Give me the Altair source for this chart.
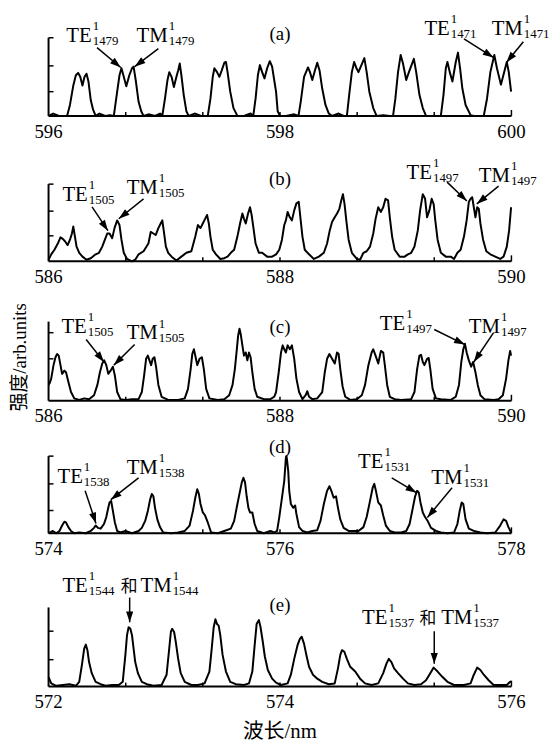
import math
import altair as alt
import pandas as pd

# ---------------- spectra: (offset from first tick label in nm, intensity in arb. units, axis top = 100)
a_start = 596
a_pts = [(0.000,0),(0.040,3),(0.090,0),(0.160,0),(0.185,14),(0.214,39),(0.236,52),(0.256,55),(0.274,50),(0.293,39),(0.311,50),(0.328,54),(0.345,44),(0.365,20),(0.385,8),(0.407,0),(0.440,3),(0.490,0),(0.530,1),
 (0.564,0),(0.593,31),(0.613,52),(0.630,61),(0.650,50),(0.672,38),(0.698,52),(0.721,61),(0.735,63),(0.755,44),(0.778,18),(0.801,6),(0.821,0),(0.863,2),(0.920,0),(0.963,3),
 (0.983,0),(1.006,22),(1.028,46),(1.043,56),(1.063,50),(1.083,37),(1.105,50),(1.120,58),(1.134,67),(1.148,52),(1.168,27),(1.191,6),(1.211,0),(1.262,3),(1.319,0),
 (1.376,0),(1.399,22),(1.419,50),(1.433,61),(1.456,56),(1.476,50),(1.496,58),(1.519,68),(1.533,69),(1.547,56),(1.570,31),(1.598,10),(1.632,0),(1.689,0),(1.746,3),
 (1.769,0),(1.789,22),(1.809,52),(1.826,65),(1.846,56),(1.866,48),(1.889,61),(1.912,70),(1.932,63),(1.952,44),(1.966,31),(1.980,6),(2.000,0),(2.051,0),(2.123,2),
 (2.160,0),(2.179,18),(2.208,50),(2.242,62),(2.259,56),(2.279,46),(2.302,58),(2.322,68),(2.342,58),(2.365,35),(2.393,14),(2.422,3),(2.450,0),(2.507,3),(2.550,0),
 (2.578,0),(2.598,27),(2.621,56),(2.641,69),(2.658,62),(2.678,56),(2.701,64),(2.729,74),(2.749,56),(2.772,31),(2.806,10),(2.835,0),(2.892,1),(2.949,0),
 (2.977,0),(2.997,22),(3.020,56),(3.043,78),(3.063,67),(3.091,46),(3.114,56),(3.157,73),(3.177,56),(3.205,27),(3.234,10),(3.262,0),(3.319,0),
 (3.390,0),(3.413,27),(3.433,61),(3.447,69),(3.467,56),(3.490,44),(3.519,69),(3.538,81),(3.556,61),(3.576,35),(3.604,14),(3.647,1),(3.675,0),(3.732,0),
 (3.761,0),(3.789,22),(3.818,56),(3.852,78),(3.875,61),(3.909,40),(3.937,56),(3.960,69),(3.977,56),(3.997,31)]

b_start = 586
b_pts = [(0.000,2),(0.023,9),(0.051,15),(0.080,23),(0.103,31),(0.123,29),(0.142,26),(0.165,21),(0.185,28),(0.202,36),(0.214,45),(0.228,32),(0.242,19),(0.265,11),(0.293,6),(0.328,2),(0.365,4),(0.407,9),(0.436,11),(0.464,19),(0.487,28),(0.507,36),(0.527,36),(0.550,30),(0.570,43),(0.593,53),(0.613,47),(0.630,28),(0.650,11),(0.678,3),(0.721,0),(0.749,2),(0.778,9),(0.821,13),(0.863,23),(0.883,38),(0.906,36),(0.926,34),(0.949,43),(0.969,49),(0.983,53),(0.997,38),(1.014,19),(1.034,11),(1.063,6),(1.105,1),(1.148,6),(1.191,11),(1.234,13),(1.268,32),(1.291,47),(1.313,43),(1.333,49),(1.353,55),(1.370,60),(1.385,49),(1.399,32),(1.419,15),(1.447,9),(1.484,3),(1.519,4),(1.547,6),(1.575,11),(1.604,15),(1.632,32),(1.655,49),(1.675,62),(1.689,55),(1.704,49),(1.724,62),(1.741,70),(1.755,60),(1.769,45),(1.789,23),(1.818,11),(1.846,11),(1.889,6),(1.932,6),
 (1.966,9),(1.994,15),(2.017,28),(2.037,47),(2.051,53),(2.066,64),(2.085,57),(2.103,53),(2.123,66),(2.142,75),(2.162,77),(2.179,53),(2.194,32),(2.214,15),(2.251,9),(2.293,3),(2.336,6),(2.379,11),(2.407,23),(2.430,40),(2.450,51),(2.473,57),(2.493,62),(2.513,68),(2.530,79),(2.544,87),(2.558,74),(2.573,53),(2.593,28),(2.621,11),(2.664,3),(2.692,2),(2.721,11),(2.749,13),(2.778,19),(2.806,36),(2.826,55),(2.849,70),(2.872,64),(2.892,70),(2.912,81),(2.934,79),(2.949,57),(2.969,32),(2.991,15),(3.034,6),(3.077,6),(3.105,9),(3.134,11),(3.162,19),(3.191,40),(3.211,66),(3.234,87),(3.254,81),(3.271,57),(3.291,66),(3.311,81),(3.328,74),(3.342,53),(3.362,28),(3.390,11),(3.433,6),(3.476,6),(3.504,3),(3.533,11),(3.561,15),(3.590,32),(3.613,53),(3.632,77),(3.647,81),(3.661,83),(3.675,70),(3.689,57),(3.704,70),(3.718,68),(3.732,49),(3.755,28),(3.783,13),(3.818,9),(3.860,6),(3.903,3),(3.932,6),(3.960,19),(3.980,40),(3.997,70)]

c_start = 586
c_pts = [(0.000,20),(0.009,22),(0.023,28),(0.043,45),(0.060,55),(0.074,59),(0.088,57),(0.103,45),(0.117,34),(0.137,38),(0.151,36),(0.171,24),(0.194,11),(0.222,3),(0.265,1),(0.308,3),(0.350,2),(0.393,7),(0.422,20),(0.444,36),(0.464,47),(0.481,51),(0.499,45),(0.516,34),(0.536,38),(0.556,43),(0.573,32),(0.593,11),(0.621,2),(0.664,1),(0.721,2),(0.778,2),(0.806,11),(0.826,32),(0.843,53),(0.858,57),(0.872,51),(0.886,45),(0.900,53),(0.915,55),(0.929,43),(0.949,20),(0.977,5),(1.034,1),(1.120,1),(1.177,3),(1.205,15),(1.228,40),(1.242,59),(1.256,65),(1.271,55),(1.285,45),(1.305,53),(1.325,55),(1.342,40),(1.362,15),(1.390,3),(1.462,1),(1.519,2),(1.561,7),(1.590,20),(1.610,40),(1.627,65),(1.638,82),(1.650,91),(1.661,84),(1.675,70),(1.689,57),(1.704,61),(1.718,51),(1.732,61),(1.746,55),(1.761,36),(1.781,15),(1.803,5),(1.860,2),(1.917,2),(1.950,5),
 (1.966,11),(1.989,36),(2.009,61),(2.023,70),(2.037,65),(2.051,61),(2.066,70),(2.085,65),(2.103,70),(2.123,53),(2.142,28),(2.165,11),(2.194,2),(2.222,7),(2.236,12),(2.251,5),(2.279,2),(2.322,3),(2.365,11),(2.387,36),(2.407,53),(2.427,59),(2.450,53),(2.473,47),(2.493,61),(2.507,59),(2.521,40),(2.541,18),(2.564,5),(2.607,1),(2.664,2),(2.707,7),(2.735,20),(2.764,45),(2.792,61),(2.806,65),(2.826,57),(2.849,47),(2.872,63),(2.892,61),(2.906,45),(2.926,20),(2.949,5),(2.991,2),(3.048,1),(3.134,2),(3.162,11),(3.185,40),(3.205,57),(3.219,58),(3.234,49),(3.248,45),(3.271,53),(3.285,54),(3.299,40),(3.319,15),(3.348,3),(3.390,2),(3.476,1),(3.519,5),(3.547,20),(3.567,49),(3.584,65),(3.598,72),(3.613,61),(3.632,51),(3.652,43),(3.669,49),(3.689,36),(3.709,20),(3.732,7),(3.766,2),(3.846,1),(3.889,2),(3.926,7),(3.954,28),(3.974,51),(3.989,63),(3.997,57)]

d_start = 574
d_pts = [(0.000,0),(0.037,3),(0.066,0),(0.094,3),(0.117,10),(0.137,15),(0.151,14),(0.171,8),(0.194,3),(0.222,0),(0.265,1),(0.322,0),(0.365,3),(0.393,7),(0.407,10),(0.427,7),(0.450,6),(0.479,12),(0.499,21),(0.516,33),(0.527,40),(0.541,42),(0.556,29),(0.573,14),(0.593,3),(0.621,1),(0.664,3),(0.721,0),(0.778,3),(0.806,7),(0.835,16),(0.858,29),(0.878,44),(0.892,51),(0.906,48),(0.920,33),(0.940,18),(0.963,8),(0.991,1),(1.063,0),(1.120,1),(1.177,3),(1.219,10),(1.248,29),(1.268,46),(1.285,57),(1.299,51),(1.313,38),(1.333,27),(1.353,23),(1.376,14),(1.405,1),(1.462,0),(1.519,3),(1.575,6),(1.604,16),(1.632,38),(1.655,55),(1.670,66),(1.684,72),(1.698,66),(1.712,48),(1.727,33),(1.741,27),(1.761,27),(1.781,12),(1.803,3),(1.860,0),(1.917,3),(1.950,1),
 (1.975,3),(1.994,21),(2.017,46),(2.037,68),(2.051,98),(2.056,100),(2.060,96),(2.071,81),(2.080,55),(2.094,38),(2.114,33),(2.131,36),(2.142,25),(2.165,8),(2.194,3),(2.236,1),(2.279,3),(2.322,4),(2.350,16),(2.379,38),(2.407,55),(2.427,61),(2.444,55),(2.464,46),(2.484,48),(2.501,33),(2.521,18),(2.550,7),(2.593,3),(2.635,3),(2.678,3),(2.721,8),(2.749,21),(2.778,42),(2.801,59),(2.815,64),(2.829,55),(2.849,40),(2.872,36),(2.892,23),(2.915,10),(2.949,3),(2.991,1),(3.048,1),(3.091,3),(3.120,12),(3.148,33),(3.168,48),(3.185,55),(3.199,53),(3.214,40),(3.234,27),(3.254,21),(3.276,16),(3.305,7),(3.348,3),(3.390,1),(3.447,0),(3.504,1),(3.533,12),(3.553,29),(3.570,40),(3.584,38),(3.604,18),(3.632,6),(3.675,3),(3.732,1),(3.789,0),(3.860,1),(3.903,10),(3.932,18),(3.954,16),(3.974,8),(3.997,1)]

e_start = 572
e_pts = [(0.000,12),(0.023,4),(0.066,1),(0.123,2),(0.180,3),(0.236,1),(0.265,6),(0.288,27),(0.308,48),(0.322,53),(0.336,46),(0.350,31),(0.373,17),(0.407,6),(0.450,3),(0.493,1),(0.550,2),(0.607,2),(0.641,6),(0.664,40),(0.678,65),(0.692,75),(0.707,73),(0.721,65),(0.735,48),(0.749,31),(0.772,17),(0.806,6),(0.849,3),(0.906,1),(0.977,2),(1.020,15),(1.040,44),(1.057,69),(1.068,73),(1.085,69),(1.100,56),(1.120,35),(1.142,17),(1.177,6),(1.234,2),(1.291,2),(1.348,4),(1.390,19),(1.410,48),(1.427,75),(1.442,85),(1.456,79),(1.470,77),(1.484,65),(1.504,40),(1.533,19),(1.570,6),(1.618,3),(1.689,2),(1.732,4),(1.761,19),(1.781,52),(1.798,79),(1.818,84),(1.832,75),(1.852,56),(1.869,38),(1.895,21),(1.932,10),(1.966,5),
 (2.009,2),(2.066,4),(2.094,15),(2.123,35),(2.151,52),(2.171,60),(2.188,63),(2.208,54),(2.228,40),(2.251,25),(2.285,15),(2.322,10),(2.365,6),(2.422,3),(2.473,4),(2.501,23),(2.521,40),(2.536,46),(2.556,44),(2.578,35),(2.607,25),(2.650,19),(2.692,10),(2.735,4),(2.792,2),(2.849,4),(2.892,17),(2.920,29),(2.940,35),(2.963,31),(2.986,23),(3.020,17),(3.063,10),(3.105,4),(3.162,2),(3.219,3),(3.262,8),(3.291,15),(3.328,24),(3.362,19),(3.405,12),(3.447,6),(3.504,2),(3.590,2),(3.647,4),(3.675,15),(3.704,24),(3.732,21),(3.761,15),(3.803,8),(3.846,2),(3.903,2),(3.960,2),(3.989,6),(3.997,6)]

# ---------------- axis tick values
a_xlabels = [596, 598, 600]
b_xlabels = [586, 588, 590]
c_xlabels = [586, 588, 590]
d_xlabels = [574, 576, 578]
e_xlabels = [572, 574, 576]
a_xminor = [596.667, 597.333, 598.0, 598.667, 599.333]
b_xminor = [586.667, 587.333, 588.0, 588.667, 589.333]
c_xminor = [586.667, 587.333, 588.0, 588.667, 589.333]
d_xminor = [574.667, 575.333, 576.0, 576.667, 577.333]
e_xminor = [572.667, 573.333, 574.0, 574.667, 575.333]
a_yticks = [31, 64, 100]
b_yticks = [33, 65, 100]
c_yticks = [53, 86]
d_yticks = [29.5, 64, 100]
e_yticks = [34, 70]

# ---------------- annotations: (mode, superscript, subscript, wavelength of left edge, intensity of baseline)
a_groups = [("TE","1","1479",596.154,95),("TM","1","1479",596.761,95),
            ("TE","1","1471",599.248,103.8),("TM","1","1471",599.829,103.8)]
a_panel = [("(a)",598.0,97)]
a_arrows = [(596.419,87.3,596.624,62),(596.949,86,596.744,63),(599.590,98.7,599.846,74.7),(600.103,95,599.957,68.4)]

b_groups = [("TE","1","1505",586.120,78.2),("TM","1","1505",586.675,87.2),
            ("TE","1","1497",589.094,106.4),("TM","1","1497",589.718,102.6)]
b_panel = [("(b)",588.0,98.7)]
b_arrows = [(586.376,70.5,586.513,39.7),(586.821,80.8,586.607,55.1),(589.444,102.6,589.615,78.2),(589.889,97.4,589.701,74.4)]

c_groups = [("TE","1","1505",586.111,86),("TM","1","1505",586.675,77.5),
            ("TE","1","1497",588.863,89),("TM","1","1497",589.632,86)]
c_panel = [("(c)",588.0,86)]
c_arrows = [(586.325,77.5,586.479,49),(586.744,71,586.564,45),(589.333,90,589.598,71),(589.846,86,589.675,49)]

d_groups = [("TE","1","1538",574.077,65.4),("TM","1","1538",574.675,76.9),
            ("TE","1","1531",576.675,84.6),("TM","1","1531",577.308,64.1)]
d_panel = [("(d)",576.0,103.8)]
d_arrows = [(574.316,55.1,574.410,12.8),(574.778,71.8,574.538,43.6),(576.966,71.8,577.179,52.6),(577.487,59,577.274,20.5)]

e_groups = [("TE","1","1544",572.120,120),("TM","1","1544",572.795,120),
            ("TE","1","1537",574.709,78.75),("TM","1","1537",575.393,78.75)]
e_cjk = [("和",572.624,120),("和",575.205,78.75)]
e_panel = [("(e)",574.0,95)]
e_arrows = [(572.701,112.5,572.701,81.25),(575.333,70,575.333,28.75)]

Y_TITLE = "强度/arb.units"
X_TITLE = "波长/nm"

# ---------------- layout (page pixels)
W = 468
TOP = 10
BASE = [111, 258, 399, 533, 688]
AXTOP = [32, 180, 319, 455, 608]
SERIF = "Liberation Serif"
CJK = "Noto Sans CJK SC"
MIX = "Liberation Serif, Noto Sans CJK SC"
HEAD = "M0,0L-0.33,1L0.33,1Z"
MAIN_SIZE = 21
SMALL_SIZE = 13
MAIN_W = {"TE": 1.222 * MAIN_SIZE + 1, "TM": 1.5 * MAIN_SIZE + 1}  # glyph advance widths in px
LEFT_EDGE = -41  # left edge of the drawing, relative to the y axis


def panel(i, start, pts, xlabels, xminor, yticks, groups, plabel, arrows, cjk=(), last=False, ytitle=False):
    H = BASE[i] - (BASE[i - 1] if i > 0 else TOP)
    pv = (BASE[i] - AXTOP[i]) / 100.0
    pxnm = W / 4.0
    ymax = H / pv
    xs = alt.Scale(domain=[start, start + 4], nice=False, zero=False)
    ys = alt.Scale(domain=[0, ymax], nice=False, zero=False)

    def X(f):
        return alt.X(f, scale=xs, axis=None)

    def Y(f):
        return alt.Y(f, scale=ys, axis=None)

    df = pd.DataFrame({"x": [start + p[0] for p in pts], "y": [p[1] for p in pts]})
    layers = [alt.Chart(df).mark_line(color="black", strokeWidth=2, strokeJoin="round").encode(
        x=X("x:Q"), y=Y("y:Q"))]

    # axes drawn as rules
    layers.append(alt.Chart(pd.DataFrame({"x": [start], "x2": [start + 4]})).mark_rule(
        color="black", strokeWidth=2).encode(x=X("x:Q"), x2="x2:Q", y=alt.value(H)))
    layers.append(alt.Chart(pd.DataFrame({"y": [0], "y2": [100]})).mark_rule(
        color="black", strokeWidth=2).encode(x=alt.value(0), y=Y("y:Q"), y2="y2:Q"))
    layers.append(alt.Chart(pd.DataFrame({"y": yticks})).mark_rule(
        color="black", strokeWidth=1.5).encode(x=alt.value(0), x2=alt.value(5), y=Y("y:Q")))
    layers.append(alt.Chart(pd.DataFrame({"x": xminor})).mark_rule(
        color="black", strokeWidth=1.5).encode(x=X("x:Q"), y=alt.value(H), y2=alt.value(H - 4)))
    layers.append(alt.Chart(pd.DataFrame({"x": [start + 4]})).mark_rule(
        color="black", strokeWidth=1.5).encode(x=X("x:Q"), y=alt.value(H), y2=alt.value(H - 6)))
    # tick labels
    layers.append(alt.Chart(pd.DataFrame({"x": xlabels, "t": [str(v) for v in xlabels]})).mark_text(
        font=SERIF, fontSize=19, color="black", align="center", baseline="middle").encode(
        x=X("x:Q"), y=alt.value(H + 16), text="t:N"))

    # mode labels with super/subscripts
    g = pd.DataFrame(groups, columns=["m", "sup", "sub", "x", "y"])
    g["xs"] = [r.x + MAIN_W[r.m] / pxnm for r in g.itertuples()]
    layers.append(alt.Chart(g).mark_text(font=SERIF, fontSize=MAIN_SIZE, color="black", align="left",
                                         baseline="alphabetic").encode(x=X("x:Q"), y=Y("y:Q"), text="m:N"))
    layers.append(alt.Chart(g).mark_text(font=SERIF, fontSize=SMALL_SIZE, color="black", align="left",
                                         baseline="alphabetic", dy=-12).encode(x=X("xs:Q"), y=Y("y:Q"), text="sup:N"))
    layers.append(alt.Chart(g).mark_text(font=SERIF, fontSize=SMALL_SIZE, color="black", align="left",
                                         baseline="alphabetic", dy=3).encode(x=X("xs:Q"), y=Y("y:Q"), text="sub:N"))
    if cjk:
        layers.append(alt.Chart(pd.DataFrame(list(cjk), columns=["t", "x", "y"])).mark_text(
            font=CJK, fontSize=17, color="black", align="left", baseline="alphabetic").encode(
            x=X("x:Q"), y=Y("y:Q"), text="t:N"))
    layers.append(alt.Chart(pd.DataFrame(plabel, columns=["t", "x", "y"])).mark_text(
        font=SERIF, fontSize=19, color="black", align="center", baseline="alphabetic").encode(
        x=X("x:Q"), y=Y("y:Q"), text="t:N"))

    ar = pd.DataFrame(arrows, columns=["x", "y", "x2", "y2"])
    ar["ang"] = [math.degrees(math.atan2((r.x2 - r.x) * pxnm, (r.y2 - r.y) * pv)) % 360
                 for r in ar.itertuples()]
    layers.append(alt.Chart(ar).mark_rule(color="black", strokeWidth=1.5).encode(
        x=X("x:Q"), y=Y("y:Q"), x2="x2:Q", y2="y2:Q"))
    layers.append(alt.Chart(ar).mark_point(shape=HEAD, size=480, filled=True, color="black",
                                           opacity=1, strokeWidth=0).encode(
        x=X("x2:Q"), y=Y("y2:Q"), angle=alt.Angle("ang:Q", scale=None)))

    if ytitle:
        layers.append(alt.Chart(pd.DataFrame({"t": [Y_TITLE]})).mark_text(
            angle=270, font=MIX, fontSize=19, color="black", align="center", baseline="middle").encode(
            x=alt.value(-29), y=alt.value(355 - BASE[i - 1]), text="t:N"))
        # keeps the left edge of the drawing fixed
        layers.append(alt.Chart(pd.DataFrame({"t": [0]})).mark_rule(
            color="white", opacity=0, strokeWidth=1).encode(
            x=alt.value(LEFT_EDGE), y=alt.value(0), y2=alt.value(2)))
    if last:
        layers.append(alt.Chart(pd.DataFrame({"t": [X_TITLE]})).mark_text(
            font=MIX, fontSize=21, color="black", align="center", baseline="middle").encode(
            x=alt.value(W / 2), y=alt.value(H + 46), text="t:N"))

    return alt.layer(*layers).properties(width=W, height=H)


pa = panel(0, a_start, a_pts, a_xlabels, a_xminor, a_yticks, a_groups, a_panel, a_arrows)
pb = panel(1, b_start, b_pts, b_xlabels, b_xminor, b_yticks, b_groups, b_panel, b_arrows)
pc = panel(2, c_start, c_pts, c_xlabels, c_xminor, c_yticks, c_groups, c_panel, c_arrows, ytitle=True)
pd_ = panel(3, d_start, d_pts, d_xlabels, d_xminor, d_yticks, d_groups, d_panel, d_arrows)
pe = panel(4, e_start, e_pts, e_xlabels, e_xminor, e_yticks, e_groups, e_panel, e_arrows, cjk=e_cjk, last=True)

chart = alt.vconcat(pa, pb, pc, pd_, pe, spacing=0, bounds="flush").configure_view(
    stroke=None).properties(padding=0, background="white")

chart.save("out.html", embed_options={"renderer": "svg", "actions": False})
